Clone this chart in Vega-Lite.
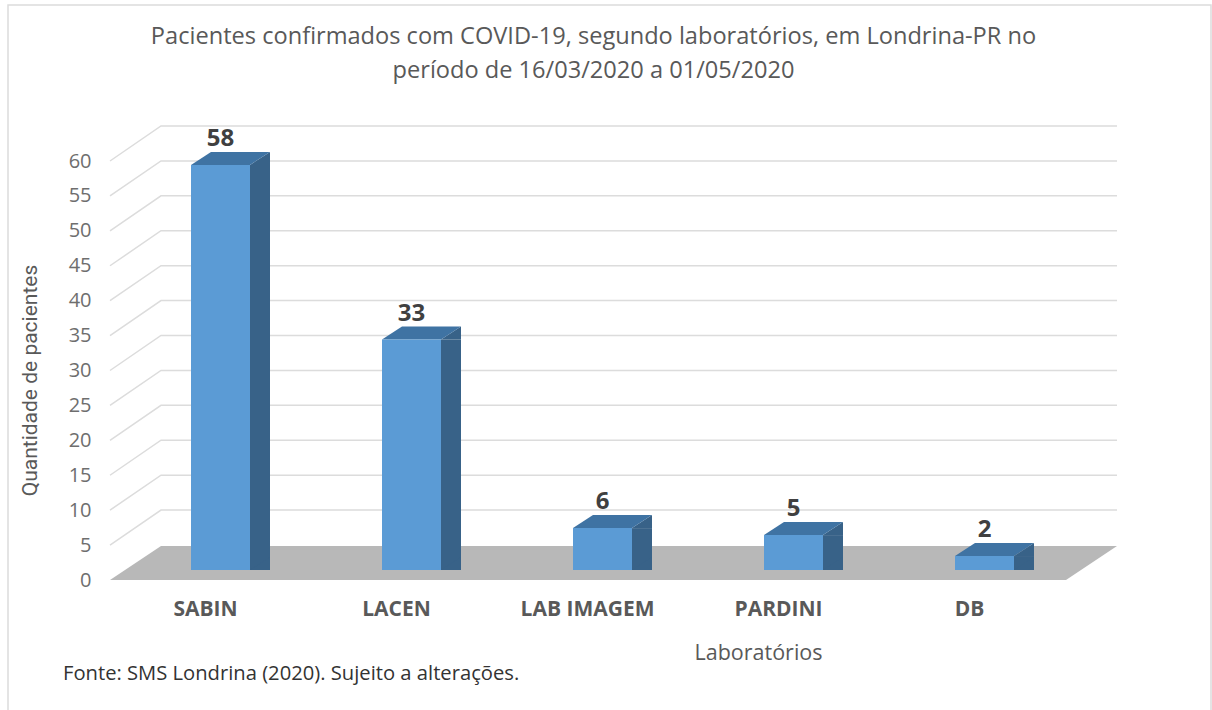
{
"$schema":"https://vega.github.io/schema/vega-lite/v6.json",
"width":955,"height":419,
"autosize":"none",
"padding":{"left":110,"top":161,"right":147,"bottom":130},
"background":"white",
"config":{"view":{"stroke":null},"font":"Open Sans","axis":{"labelOverlap":false},"axisY":{"tickCount":13}},
"title":{"text":["Pacientes confirmados com COVID-19, segundo laboratórios, em Londrina-PR no","período de 16/03/2020 a 01/05/2020"],"font":"Open Sans","fontSize":23.6,"fontWeight":"normal","color":"#595959","anchor":"middle","frame":"group","lineHeight":34,"offset":-81,"dx":6},
"datasets":{
"labs":[{"lab":"SABIN","pacientes":58},{"lab":"LACEN","pacientes":33},{"lab":"LAB IMAGEM","pacientes":6},{"lab":"PARDINI","pacientes":5},{"lab":"DB","pacientes":2}],
"ticks":[{"tick":5},{"tick":10},{"tick":15},{"tick":20},{"tick":25},{"tick":30},{"tick":35},{"tick":40},{"tick":45},{"tick":50},{"tick":55},{"tick":60}],
"base":[{"lab":"SABIN","tick":0,"note":"Fonte: SMS Londrina (2020). Sujeito a alterações."}]
},
"layer":[
{"data":{"name":"base"},
 "mark":{"type":"point","shape":"M-197.5 130 L-197.5 -575 L1005.5 -575 L1005.5 130","size":4,"filled":false,"fill":null,"stroke":"#dcdcdc","strokeWidth":1.5,"opacity":1},
 "encoding":{
  "x":{"field":"lab","type":"nominal","sort":null,"title":"Laboratórios","scale":{"domain":["SABIN","LACEN","LAB IMAGEM","PARDINI","DB"],"type":"band","paddingInner":0,"paddingOuter":0},
   "axis":{"labelAngle":0,"ticks":false,"domain":false,"labelFont":"Open Sans","labelFontSize":21,"labelFontWeight":"bold","labelColor":"#595959","labelPadding":18,"titleFont":"Open Sans","titleFontSize":21.5,"titleFontWeight":"normal","titleColor":"#595959","titleX":648,"titleY":62,"grid":false}},
  "y":{"field":"tick","type":"quantitative","title":"Quantidade de pacientes","scale":{"domain":[0,60],"nice":false},
   "axis":{"values":[0,5,10,15,20,25,30,35,40,45,50,55,60],"labelOverlap":false,"ticks":false,"domain":false,"grid":false,"labelFont":"Open Sans","labelFontSize":20,"labelColor":"#6e6e6e","labelPadding":19,"titleFont":"Roboto","titleFontSize":21,"titleFontWeight":"normal","titleColor":"#595959","titleX":-70,"titleY":219}}
 }},
{"data":{"name":"ticks"},"transform":[{"calculate":"'SABIN'","as":"lab"}],
 "mark":{"type":"point","shape":"M-95.5 0 L-44.5 -35 L911.5 -35","size":4,"filled":false,"fill":null,"stroke":"#dcdcdc","strokeWidth":1.5,"opacity":1},
 "encoding":{"x":{"field":"lab","type":"nominal","sort":null},"y":{"field":"tick","type":"quantitative"}}},
{"data":{"name":"base"},
 "mark":{"type":"point","shape":"M-95.5 0 L860.5 0 L911.5 -34 L-44.5 -34 Z","size":4,"filled":true,"color":"#b8b8b8","strokeWidth":0,"opacity":1},
 "encoding":{"x":{"field":"lab","type":"nominal","sort":null},"y":{"field":"tick","type":"quantitative"}}},
{"data":{"name":"labs"},
 "mark":{"type":"bar","width":20,"color":"#386288","xOffset":54.5,"yOffset":-10,"y2Offset":-23},
 "encoding":{"x":{"field":"lab","type":"nominal","sort":null},"y":{"field":"pacientes","type":"quantitative"}}},
{"data":{"name":"labs"},
 "mark":{"type":"point","shape":"M44.5 -10 L64.5 -23 L64.5 -10 Z","size":4,"filled":true,"color":"#386288","strokeWidth":0,"opacity":1},
 "encoding":{"x":{"field":"lab","type":"nominal","sort":null},"y":{"field":"pacientes","type":"quantitative"}}},
{"data":{"name":"labs"},
 "mark":{"type":"point","shape":"M44.5 -10 L64.5 -23 L44.5 -23 Z","size":4,"filled":true,"color":"#386288","strokeWidth":0,"opacity":1},
 "encoding":{"x":{"field":"lab","type":"nominal","sort":null},"y":{"datum":0,"type":"quantitative"}}},
{"data":{"name":"labs"},
 "mark":{"type":"point","shape":"M-14.5 -10 L44.5 -10 L64.5 -23 L5.5 -23 Z","size":4,"filled":true,"color":"#3f73a3","strokeWidth":0,"opacity":1},
 "encoding":{"x":{"field":"lab","type":"nominal","sort":null},"y":{"field":"pacientes","type":"quantitative"}}},
{"data":{"name":"labs"},
 "mark":{"type":"bar","width":59,"color":"#5b9bd5","xOffset":15,"yOffset":-10,"y2Offset":-10},
 "encoding":{"x":{"field":"lab","type":"nominal","sort":null},"y":{"field":"pacientes","type":"quantitative"}}},
{"data":{"name":"labs"},
 "mark":{"type":"text","font":"Open Sans","fontSize":24,"fontWeight":"bold","color":"#404040","dx":15,"dy":-29,"baseline":"alphabetic"},
 "encoding":{"x":{"field":"lab","type":"nominal","sort":null},"y":{"field":"pacientes","type":"quantitative"},"text":{"field":"pacientes","type":"quantitative"}}},
{"data":{"name":"base"},
 "mark":{"type":"text","font":"Open Sans","fontSize":20.2,"color":"#333333","align":"left","baseline":"alphabetic","dx":-142.5,"dy":100},
 "encoding":{"x":{"field":"lab","type":"nominal","sort":null},"y":{"field":"tick","type":"quantitative"},"text":{"field":"note","type":"nominal"}}}
]
}
